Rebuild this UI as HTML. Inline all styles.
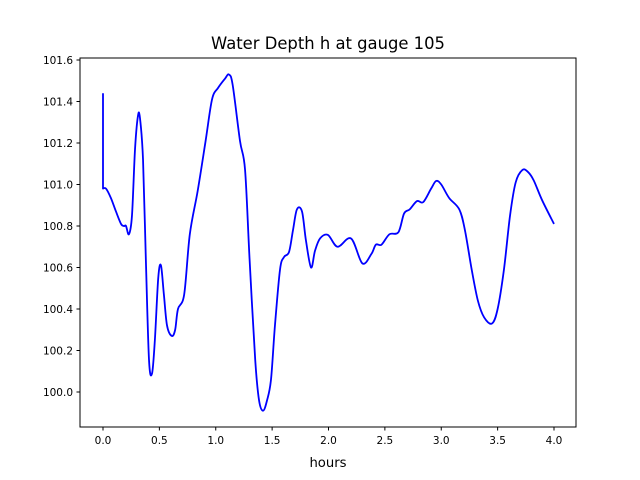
<!DOCTYPE html>
<html><head><meta charset="utf-8"><style>body{margin:0;background:#fff}svg{display:block;font-family:"DejaVu Sans","Liberation Sans",sans-serif}</style></head>
<body>
<svg id="chart" width="640" height="480" viewBox="0 0 640 480">
<rect width="640" height="480" fill="#fff"/>
<text x="328" y="49" font-size="16.4" text-anchor="middle">Water Depth h at gauge 105</text>
<g id="plot"></g>
<rect x="80" y="58" width="496" height="369" fill="none" stroke="#000" stroke-width="1"/>
<text x="328" y="467" font-size="13.2" text-anchor="middle">hours</text>
</svg>
<script>
const hours=[0,0,0.027,0.07,0.115,0.16,0.186,0.204,0.23,0.257,0.284,0.31,0.328,0.355,0.38,0.408,0.435,0.46,0.49,0.514,0.54,0.568,0.61,0.64,0.665,0.72,0.77,0.84,0.91,0.967,1.02,1.082,1.117,1.15,1.215,1.26,1.30,1.35,1.384,1.42,1.455,1.49,1.525,1.57,1.605,1.65,1.685,1.72,1.765,1.80,1.845,1.88,1.925,1.995,2.08,2.2,2.30,2.38,2.42,2.47,2.54,2.62,2.67,2.72,2.785,2.84,2.91,2.955,3.0,3.07,3.16,3.21,3.27,3.325,3.38,3.45,3.50,3.556,3.61,3.66,3.72,3.77,3.82,3.894,4.0];
const depth=[101.44,100.98,100.98,100.935,100.87,100.81,100.80,100.80,100.76,100.85,101.17,101.33,101.32,101.12,100.64,100.155,100.09,100.25,100.55,100.61,100.47,100.32,100.27,100.30,100.40,100.47,100.76,100.97,101.21,101.41,101.465,101.51,101.53,101.48,101.21,101.07,100.64,100.155,99.96,99.91,99.96,100.06,100.32,100.59,100.65,100.675,100.78,100.88,100.87,100.73,100.60,100.68,100.74,100.757,100.70,100.74,100.62,100.665,100.71,100.71,100.76,100.77,100.86,100.88,100.92,100.915,100.98,101.017,101.0,100.935,100.88,100.78,100.59,100.44,100.36,100.33,100.40,100.59,100.85,101.01,101.07,101.06,101.02,100.925,100.81];
const xTicks=[0,0.5,1,1.5,2,2.5,3,3.5,4];
const yTicks=[100.0,100.2,100.4,100.6,100.8,101.0,101.2,101.4,101.6];
const X=v=>103+v*112.75, Y=v=>392-(v-100)*207.5;
const NS="http://www.w3.org/2000/svg", g=document.getElementById('plot');
function mk(t,a){const e=document.createElementNS(NS,t);for(const k in a)e.setAttribute(k,a[k]);g.appendChild(e);return e;}
xTicks.forEach(t=>{
 const l=mk('line',{x1:X(t),x2:X(t),y1:427,y2:430.5,stroke:'#000'});
 
 
 const s=mk('text',{x:X(t),y:444,'font-size':10.5,'text-anchor':'middle'});s.textContent=t.toFixed(1);
 
 
});
yTicks.forEach(t=>{
 const l=mk('line',{x1:76.5,x2:80,y1:Y(t),y2:Y(t),stroke:'#000'});
 
 
 const s=mk('text',{x:73,y:Y(t)+3.8,'font-size':10.5,'text-anchor':'end'});s.textContent=t.toFixed(1);
 
 
});
const pts=hours.map((h,i)=>[X(h),Y(depth[i])]);
let d='M'+pts[0][0]+','+pts[0][1]+' L'+pts[1][0]+','+pts[1][1];
for(let i=1;i<pts.length-1;i++){
 const p0=pts[Math.max(1,i-1)],p1=pts[i],p2=pts[i+1],p3=pts[Math.min(pts.length-1,i+2)];
 const c1=[p1[0]+(p2[0]-p0[0])/6,p1[1]+(p2[1]-p0[1])/6];
 const c2=[p2[0]-(p3[0]-p1[0])/6,p2[1]-(p3[1]-p1[1])/6];
 d+=' C'+c1[0]+','+c1[1]+' '+c2[0]+','+c2[1]+' '+p2[0]+','+p2[1];
}
const p=mk('path',{d:d,fill:'none',stroke:'#0000ff','stroke-width':1.8,'stroke-linejoin':'round'});


</script>
</body></html>
